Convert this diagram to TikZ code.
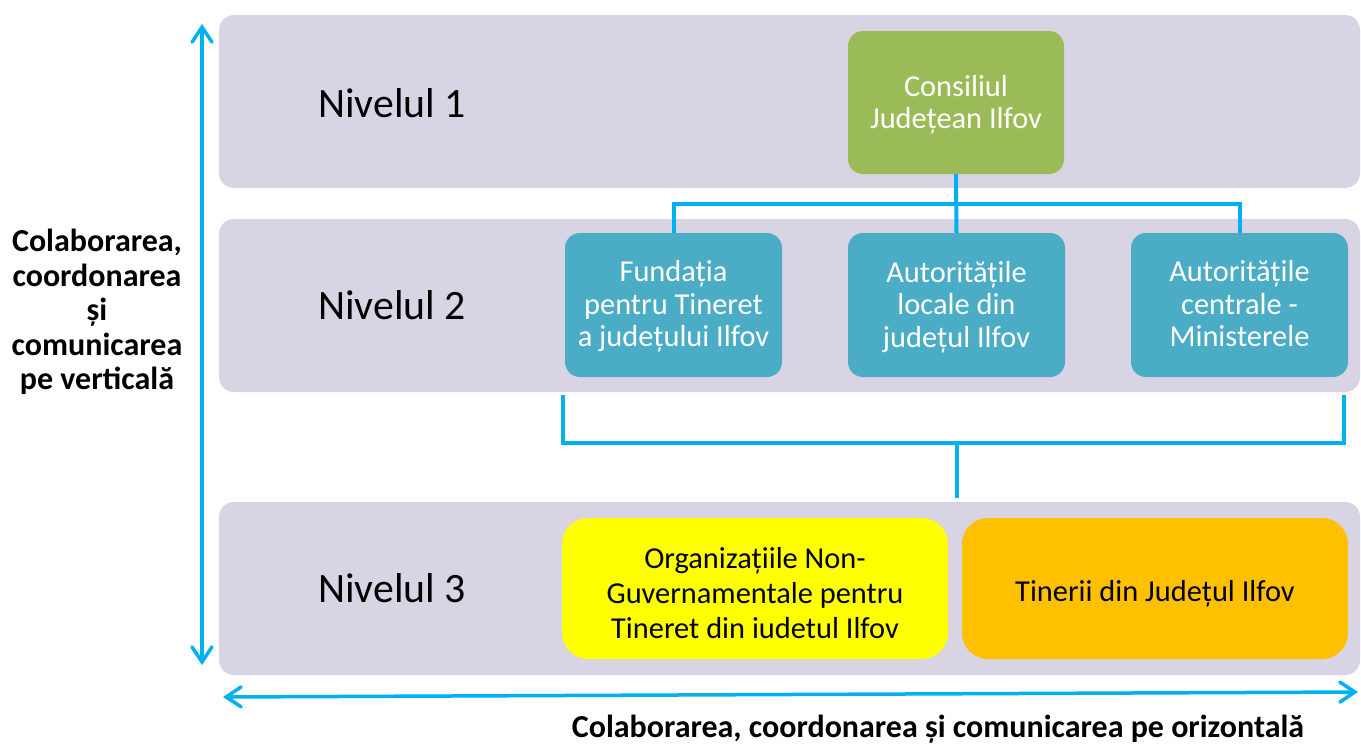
\documentclass[tikz,border=0pt]{standalone}
\usepackage{fontspec}
\setmainfont{Carlito}
\usetikzlibrary{arrows.meta,positioning}
\definecolor{bandc}{HTML}{D9D4E3}
\definecolor{greenc}{HTML}{9BBB59}
\definecolor{bluec}{HTML}{4BACC6}
\definecolor{yellowc}{HTML}{FFFF00}
\definecolor{orangec}{HTML}{FFC000}
\definecolor{linec}{HTML}{00B0F0}
\newcommand{\boxtext}[3]{\raisebox{#1}[\height][\depth]{\parbox{#2}{\centering #3}}}
\tikzset{
  band/.style={fill=bandc, rounded corners=15pt},
  boxbase/.style={rounded corners=15pt, align=center, inner sep=0pt,
    font=\fontsize{30.4}{32.5}\selectfont},
  greenbox/.style={boxbase, fill=greenc, text=white, minimum width=216pt, minimum height=143pt},
  bluebox/.style={boxbase, fill=bluec, text=white, minimum width=217pt, minimum height=144pt},
  yellowbox/.style={boxbase, rounded corners=26pt, fill=yellowc, text=black, minimum width=386pt, minimum height=141pt,
    font=\fontsize{30.4}{35}\selectfont},
  orangebox/.style={boxbase, rounded corners=26pt, fill=orangec, text=black, minimum width=386pt, minimum height=141pt},
  levellabel/.style={anchor=west, inner sep=0pt, font=\fontsize{41.8}{44}\selectfont},
  conn/.style={draw=linec, line width=4pt},
  axis/.style={draw=linec, line width=3.5pt, line cap=round,
    {Straight Barb[length=15pt,width=20pt,line cap=round]}-{Straight Barb[length=15pt,width=20pt,line cap=round]}},
  sidelabel/.style={align=center, inner sep=0pt, font=\bfseries\fontsize{32}{34.5}\selectfont}
}
\begin{document}
\begin{tikzpicture}[x=1pt,y=-1pt]
\useasboundingbox (0,0) rectangle (1361,744);
% bands
\path[band] (219,15) rectangle (1360,188);
\path[band] (219,219) rectangle (1360,392);
\path[band] (219,502) rectangle (1360,675);
% level labels
\node[levellabel] (n1) at (318,103) {Nivelul 1};
\node[levellabel] (n2) at (318,305) {Nivelul 2};
\node[levellabel] (n3) at (318,588) {Nivelul 3};
% boxes
\node[greenbox] (cons) at (956,102.5) {\boxtext{-2pt}{210pt}{Consiliul\\Județean Ilfov}};
\node[bluebox] (fund) at (673.5,305) {\boxtext{-1.5pt}{210pt}{Fundația\\pentru Tineret\\a județului Ilfov}};
\node[bluebox] (loc) at (956.5,305) {\boxtext{-2pt}{210pt}{Autoritățile\\locale din\\județul Ilfov}};
\node[bluebox] (cent) at (1239.5,305) {\boxtext{1pt}{210pt}{Autoritățile\\centrale -\\Ministerele}};
\node[yellowbox] (ong) at (755,588.5) {\boxtext{-4.5pt}{380pt}{Organizațiile Non-\\Guvernamentale pentru\\Tineret din iudetul Ilfov}};
\node[orangebox] (tin) at (1155,588.5) {\boxtext{-5pt}{380pt}{Tinerii din Județul Ilfov}};
% top connectors
\coordinate (tb) at (0,204);
\draw[conn] (fund.north) -- (fund.north |- tb) -- (cent.north |- tb) -- (cent.north);
\draw[conn] (cons.south) -- (loc.north);
% lower bracket
\coordinate (b1) at (563,395);
\coordinate (b2) at (563,443);
\coordinate (b3) at (1344,443);
\coordinate (b4) at (1344,395);
\coordinate (bend) at (957,498);
\draw[conn] (b1) -- (b2) -- (b3) -- (b4);
\draw[conn] (bend |- b2) -- (bend);
% axes
\coordinate (vt) at (202,24);
\coordinate (vb) at (202,665);
\coordinate (hl) at (223,697);
\coordinate (hr) at (1358,692);
\draw[axis] (vb) -- (vt);
\draw[axis] (hl) -- (hr);
% axis labels
\node[sidelabel] (vl) at (97,312) {Colaborarea,\\coordonarea\\și\\comunicarea\\pe verticală};
\node[sidelabel] (hlab) at (938,729) {Colaborarea, coordonarea și comunicarea pe orizontală};
\end{tikzpicture}
\end{document}
